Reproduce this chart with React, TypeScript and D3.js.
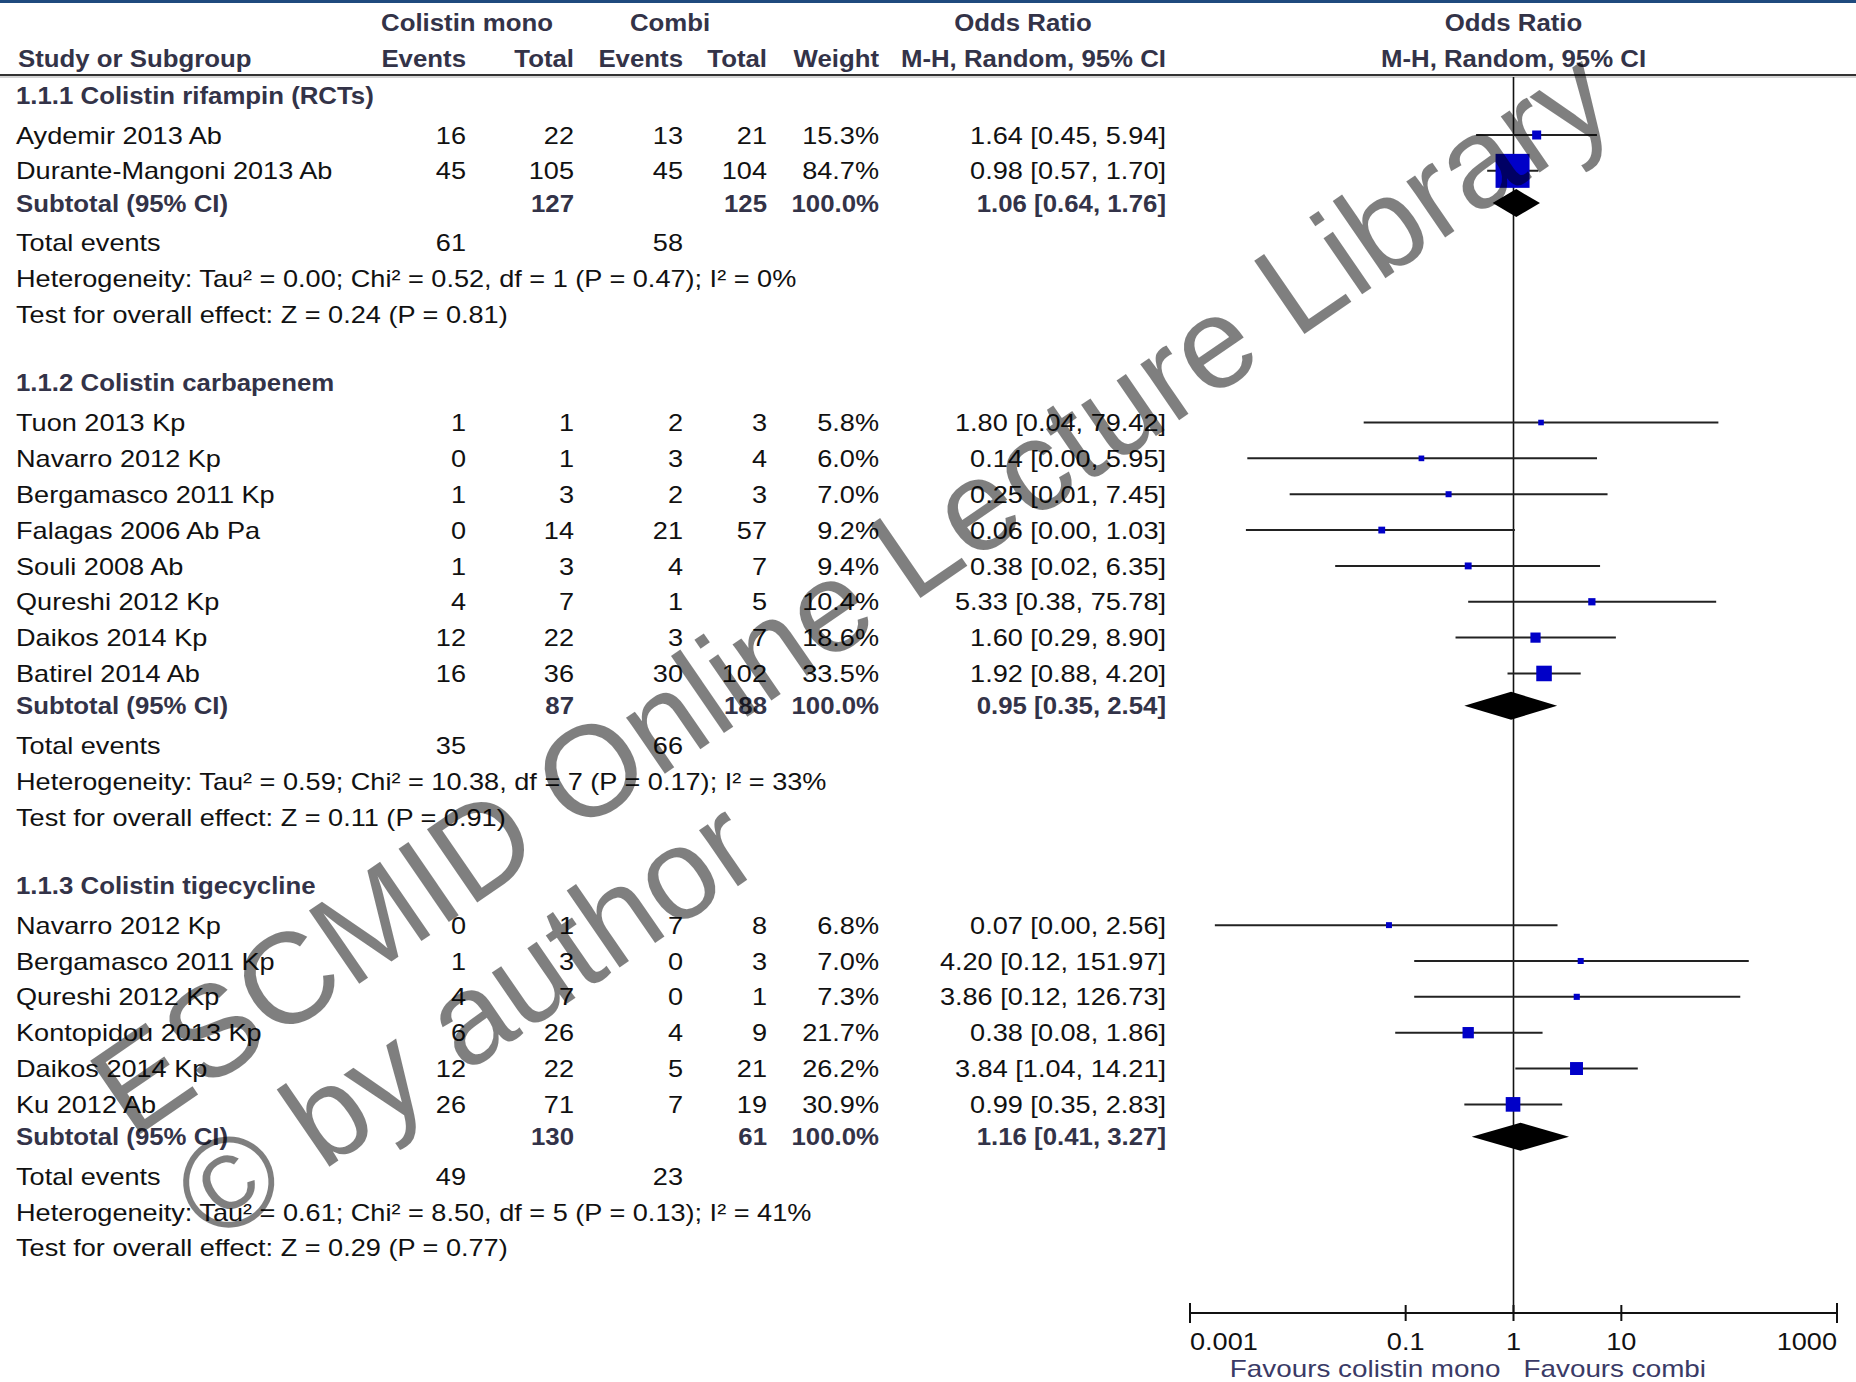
import React from "react";
import * as d3 from "d3";

// ---------- DATA ----------
const groupTitles = [
  "1.1.1 Colistin rifampin (RCTs)",
  "1.1.2 Colistin carbapenem",
  "1.1.3 Colistin tigecycline",
];
const studyNames = [
  ["Aydemir 2013 Ab", "Durante-Mangoni 2013 Ab"],
  ["Tuon 2013 Kp", "Navarro 2012 Kp", "Bergamasco 2011 Kp", "Falagas 2006 Ab Pa", "Souli 2008 Ab", "Qureshi 2012 Kp", "Daikos 2014 Kp", "Batirel 2014 Ab"],
  ["Navarro 2012 Kp", "Bergamasco 2011 Kp", "Qureshi 2012 Kp", "Kontopidou 2013 Kp", "Daikos 2014 Kp", "Ku 2012 Ab"],
];
const eventsMono = [[16, 45], [1, 0, 1, 0, 1, 4, 12, 16], [0, 1, 4, 6, 12, 26]];
const totalMono = [[22, 105], [1, 1, 3, 14, 3, 7, 22, 36], [1, 3, 7, 26, 22, 71]];
const eventsCombi = [[13, 45], [2, 3, 2, 21, 4, 1, 3, 30], [7, 0, 0, 4, 5, 7]];
const totalCombi = [[21, 104], [3, 4, 3, 57, 7, 5, 7, 102], [8, 3, 1, 9, 21, 19]];
const weights = [[15.3, 84.7], [5.8, 6.0, 7.0, 9.2, 9.4, 10.4, 18.6, 33.5], [6.8, 7.0, 7.3, 21.7, 26.2, 30.9]];
const oddsRatio = [[1.64, 0.98], [1.8, 0.14, 0.25, 0.06, 0.38, 5.33, 1.6, 1.92], [0.07, 4.2, 3.86, 0.38, 3.84, 0.99]];
const ciLow = [[0.45, 0.57], [0.0408, 0.0034, 0.0084, 0.0033, 0.0222, 0.38, 0.29, 0.88], [0.0017, 0.12, 0.12, 0.08, 1.04, 0.35]];
const ciHigh = [[5.94, 1.7], [79.42, 5.95, 7.45, 1.03, 6.35, 75.78, 8.9, 4.2], [2.56, 151.97, 126.73, 1.86, 14.21, 2.83]];

const subtotalMono = [127, 87, 130];
const subtotalCombi = [125, 188, 61];
const subtotalOR = [1.06, 0.95, 1.16];
const subtotalLow = [0.64, 0.35, 0.41];
const subtotalHigh = [1.76, 2.54, 3.27];
const totalEventsMono = [61, 35, 49];
const totalEventsCombi = [58, 66, 23];
const heterogeneity = [
  "Heterogeneity: Tau\u00b2 = 0.00; Chi\u00b2 = 0.52, df = 1 (P = 0.47); I\u00b2 = 0%",
  "Heterogeneity: Tau\u00b2 = 0.59; Chi\u00b2 = 10.38, df = 7 (P = 0.17); I\u00b2 = 33%",
  "Heterogeneity: Tau\u00b2 = 0.61; Chi\u00b2 = 8.50, df = 5 (P = 0.13); I\u00b2 = 41%",
];
const overallEffect = [
  "Test for overall effect: Z = 0.24 (P = 0.81)",
  "Test for overall effect: Z = 0.11 (P = 0.91)",
  "Test for overall effect: Z = 0.29 (P = 0.77)",
];
const tickValues = [0.001, 0.1, 1, 10, 1000];
const tickLabels = ["0.001", "0.1", "1", "10", "1000"];
const favoursLeft = "Favours colistin mono";
const favoursRight = "Favours combi";
const watermark1 = "ESCMID Online Lecture Library";
const watermark2 = "\u00a9 by author";

// ---------- LAYOUT ----------
const W = 1856;
const H = 1382;
const FONT = "'Liberation Sans', Arial, sans-serif";
const SX = 1.13; // horizontal stretch of regular text
const SXB = 1.075; // bold text stretch
const HEAD = "#333348";

const col = {
  name: 16,
  evM: 466,
  totM: 574,
  evC: 683,
  totC: 767,
  wt: 879,
  or: 1166,
};

const x = d3.scaleLog().domain([0.001, 1000]).range([1190, 1837]);
const yRow = d3.scaleLinear().domain([0, 1]).range([135, 135 + 35.85]);
const boxSize = d3.scaleLinear().domain([0, 100]).range([3.5, 39.5]);

type Row = { kind: string; g: number; i?: number; pos: number };
const rows: Row[] = [];
{
  let first = 0;
  studyNames.forEach((names, g) => {
    rows.push({ kind: "header", g, pos: first - 1.12 });
    names.forEach((_, i) => rows.push({ kind: "study", g, i, pos: first + i }));
    const last = first + names.length - 1;
    rows.push({ kind: "subtotal", g, pos: last + 0.9 });
    rows.push({ kind: "total", g, pos: last + 2 });
    rows.push({ kind: "het", g, pos: last + 3 });
    rows.push({ kind: "test", g, pos: last + 4 });
    first = last + 4 + 1.9 + 1.12;
  });
}

function T(props: {
  x: number;
  y: number;
  text: string | number;
  anchor?: string;
  bold?: boolean;
  fill?: string;
  size?: number;
  sx?: number;
}) {
  const sx = props.sx ?? (props.bold ? SXB : SX);
  return (
    <text
      transform={`translate(${props.x},${props.y}) scale(${sx},1)`}
      textAnchor={props.anchor ?? "start"}
      dy="0.36em"
      fontFamily={FONT}
      fontSize={props.size ?? 24}
      fontWeight={props.bold ? "bold" : "normal"}
      fill={props.fill ?? "#111"}
    >
      {props.text}
    </text>
  );
}

const f2 = (v: number) => v.toFixed(2);
const ciText = (o: number, l: number, h: number) => `${f2(o)} [${f2(l)}, ${f2(h)}]`;

export default function App() {
  const axisY = 1313;
  const x1 = x(1);
  return (
    <svg
      width={W}
      height={H}
      viewBox={`0 0 ${W} ${H}`}
      style={{ position: "absolute", left: 0, top: 0, display: "block", background: "#fff" }}
    >
      <rect x={0} y={0} width={W} height={H} fill="#fff" />
      <rect x={0} y={0} width={W} height={3} fill="#1f4a7e" />

      {/* column headers */}
      <T x={467} y={22} text="Colistin mono" anchor="middle" bold fill={HEAD} />
      <T x={670} y={22} text="Combi" anchor="middle" bold fill={HEAD} />
      <T x={1023} y={22} text="Odds Ratio" anchor="middle" bold fill={HEAD} />
      <T x={x1} y={22} text="Odds Ratio" anchor="middle" bold fill={HEAD} />
      <T x={col.name + 2} y={58} text="Study or Subgroup" bold fill={HEAD} />
      <T x={col.evM} y={58} text="Events" anchor="end" bold fill={HEAD} />
      <T x={col.totM} y={58} text="Total" anchor="end" bold fill={HEAD} />
      <T x={col.evC} y={58} text="Events" anchor="end" bold fill={HEAD} />
      <T x={col.totC} y={58} text="Total" anchor="end" bold fill={HEAD} />
      <T x={col.wt} y={58} text="Weight" anchor="end" bold fill={HEAD} />
      <T x={col.or} y={58} text="M-H, Random, 95% CI" anchor="end" bold fill={HEAD} />
      <T x={x1} y={58} text="M-H, Random, 95% CI" anchor="middle" bold fill={HEAD} />
      <line x1={0} x2={W} y1={75} y2={75} stroke="#333" strokeWidth={2} />
      <line x1={0} x2={W} y1={77} y2={77} stroke="#aaa" strokeWidth={1} />

      {/* vertical line of no effect */}
      <line x1={x1} x2={x1} y1={77} y2={axisY} stroke="#111" strokeWidth={1.6} />

      {rows.map((r, k) => {
        const y = yRow(r.pos);
        const g = r.g;
        if (r.kind === "header")
          return <T key={k} x={col.name} y={y} text={groupTitles[g]} bold fill={HEAD} />;
        if (r.kind === "study") {
          const i = r.i as number;
          const s = boxSize(weights[g][i]);
          const lo = Math.max(ciLow[g][i], 0.001);
          const hi = Math.min(ciHigh[g][i], 1000);
          return (
            <g key={k}>
              <T x={col.name} y={y} text={studyNames[g][i]} />
              <T x={col.evM} y={y} text={eventsMono[g][i]} anchor="end" />
              <T x={col.totM} y={y} text={totalMono[g][i]} anchor="end" />
              <T x={col.evC} y={y} text={eventsCombi[g][i]} anchor="end" />
              <T x={col.totC} y={y} text={totalCombi[g][i]} anchor="end" />
              <T x={col.wt} y={y} text={`${weights[g][i].toFixed(1)}%`} anchor="end" />
              <T x={col.or} y={y} text={ciText(oddsRatio[g][i], ciLow[g][i], ciHigh[g][i])} anchor="end" />
              <line x1={x(lo)} x2={x(hi)} y1={y} y2={y} stroke="#222" strokeWidth={2} />
              <rect
                x={x(oddsRatio[g][i]) - s / 2}
                y={y - s / 2}
                width={s}
                height={s}
                fill="#0000c8"
              />
            </g>
          );
        }
        if (r.kind === "subtotal") {
          const yc = y;
          const hh = 14;
          const xs = [x(subtotalLow[g]), x(subtotalOR[g]), x(subtotalHigh[g])];
          const path = `M${xs[0]},${yc} L${xs[1]},${yc - hh} L${xs[2]},${yc} L${xs[1]},${yc + hh} Z`;
          return (
            <g key={k}>
              <T x={col.name} y={y} text="Subtotal (95% CI)" bold fill={HEAD} />
              <T x={col.totM} y={y} text={subtotalMono[g]} anchor="end" bold fill={HEAD} />
              <T x={col.totC} y={y} text={subtotalCombi[g]} anchor="end" bold fill={HEAD} />
              <T x={col.wt} y={y} text="100.0%" anchor="end" bold fill={HEAD} />
              <T x={col.or} y={y} text={ciText(subtotalOR[g], subtotalLow[g], subtotalHigh[g])} anchor="end" bold fill={HEAD} />
              <path d={path} fill="#000" />
            </g>
          );
        }
        if (r.kind === "total")
          return (
            <g key={k}>
              <T x={col.name} y={y} text="Total events" />
              <T x={col.evM} y={y} text={totalEventsMono[g]} anchor="end" />
              <T x={col.evC} y={y} text={totalEventsCombi[g]} anchor="end" />
            </g>
          );
        if (r.kind === "het") return <T key={k} x={col.name} y={y} text={heterogeneity[g]} />;
        return <T key={k} x={col.name} y={y} text={overallEffect[g]} />;
      })}

      {/* axis */}
      <line x1={x(0.001)} x2={x(1000)} y1={axisY} y2={axisY} stroke="#111" strokeWidth={2} />
      {tickValues.map((t, i) => {
        const end = i === 0 || i === tickValues.length - 1;
        return (
          <g key={t}>
            <line x1={x(t)} x2={x(t)} y1={axisY - (end ? 10 : 8)} y2={axisY + (end ? 10 : 8)} stroke="#111" strokeWidth={2} />
            <T
              x={x(t)}
              y={1341}
              text={tickLabels[i]}
              anchor={i === 0 ? "start" : i === tickValues.length - 1 ? "end" : "middle"}
            />
          </g>
        );
      })}
      <T x={x1 - 13} y={1368} text={favoursLeft} anchor="end" fill="#3a3a66" sx={1.16} />
      <T x={x1 + 10} y={1368} text={favoursRight} fill="#3a3a66" sx={1.16} />

      {/* watermark */}
      <g fill="#000" fillOpacity={0.5} fontFamily={FONT} fontSize={129}>
        <text transform="translate(850,590) rotate(-34.5)" textAnchor="middle" dy="0.36em">
          {watermark1}
        </text>
        <text transform="translate(464,1018) rotate(-34.5)" textAnchor="middle" dy="0.36em">
          {watermark2}
        </text>
      </g>
    </svg>
  );
}
